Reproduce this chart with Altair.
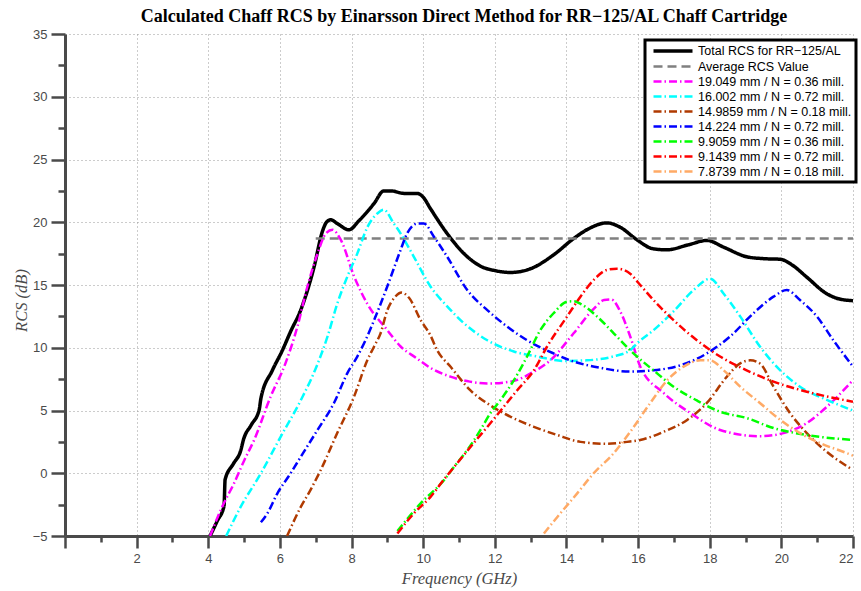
import altair as alt
import pandas as pd

TITLE = "Calculated Chaff RCS by Einarsson Direct Method for RR−125/AL Chaff Cartridge"

series_names = [
    "Total RCS for RR−125/AL",
    "Average RCS Value",
    "19.049 mm / N = 0.36 mill.",
    "16.002 mm / N = 0.72 mill.",
    "14.9859 mm / N = 0.18 mill.",
    "14.224 mm / N = 0.72 mill.",
    "9.9059 mm / N = 0.36 mill.",
    "9.1439 mm / N = 0.72 mill.",
    "7.8739 mm / N = 0.18 mill.",
]
series_colors = ["#000000", "#808080", "#ff00ff", "#00ffff", "#b03a00",
                 "#0000ff", "#00ff00", "#ff0000", "#ffaa66"]
series_dashes = [[1, 0], [9, 5], [8, 3, 1.5, 3], [8, 3, 1.5, 3], [8, 3, 1.5, 3],
                 [8, 3, 1.5, 3], [8, 3, 1.5, 3], [8, 3, 1.5, 3], [8, 3, 1.5, 3]]
series_widths = [3.5, 2.5, 2.5, 2.5, 2.5, 2.5, 2.5, 2.5, 2.5]

total_x = [4.05, 4.25, 4.44, 4.47, 4.7, 4.91, 4.98, 5.2, 5.42, 5.47, 5.79, 6.07, 6.3, 6.58,
           6.95, 7.19, 7.3, 7.42, 7.6, 7.93, 8.2, 8.63, 8.9, 9.1, 9.46, 9.83, 10.0, 10.2,
           10.67, 11.14, 11.6, 12.0, 12.44, 13.0, 13.64, 14.2, 14.6, 15.13, 15.5, 15.97,
           16.4, 16.8, 17.4, 17.92, 18.4, 19.03, 19.5, 19.97, 20.3, 20.7, 21.27, 21.6, 22.0]
total_y = [-5.0, -3.8, -2.6, -0.5, 0.75, 1.85, 2.65, 3.85, 5.04, 5.97, 8.2, 9.8, 11.3, 13.0,
           16.4, 19.3, 20.0, 20.2, 19.9, 19.4, 20.1, 21.5, 22.5, 22.5, 22.3, 22.3, 22.0, 21.1,
           19.1, 17.5, 16.5, 16.15, 16.0, 16.3, 17.4, 18.7, 19.45, 19.95, 19.6, 18.6,
           17.9, 17.8, 18.2, 18.55, 18.0, 17.25, 17.1, 17.05, 16.6, 15.65, 14.3, 13.9, 13.75]

avg_x = [7.0, 22.0]
avg_y = [18.7, 18.7]

mag_x = [4.05, 4.4, 4.72, 5.0, 5.28, 5.74, 6.16, 6.49, 6.77, 7.05, 7.28, 7.47, 7.7, 8.07,
         8.44, 9.0, 9.37, 9.8, 10.2, 10.76, 11.3, 11.79, 12.44, 13.09, 13.55, 14.2, 14.76,
         15.05, 15.25, 15.5, 15.78, 16.06, 16.71, 17.46, 18.29, 19.4, 20.06, 20.71, 21.27, 21.96]
mag_y = [-5.0, -2.6, -0.8, 1.0, 2.65, 6.1, 8.8, 11.7, 14.9, 17.5, 19.1, 19.4, 18.6, 15.7,
         13.5, 11.4, 10.1, 9.2, 8.4, 7.7, 7.3, 7.15, 7.3, 8.1, 9.0, 11.15, 13.1,
         13.8, 13.85, 12.9, 10.9, 8.5, 6.4, 4.8, 3.45, 2.95, 3.2, 4.0, 5.3, 7.3]

cyan_x = [4.5, 4.9, 5.47, 6.02, 6.58, 7.0, 7.33, 7.6, 7.88, 8.16, 8.44, 8.72, 8.9, 9.18,
          9.28, 9.74, 10.2, 10.67, 11.14, 11.79, 12.53, 13.18, 13.92, 14.57, 15.3, 15.78,
          15.97, 16.43, 16.99, 17.55, 18.01, 18.39, 18.85, 19.4, 19.97, 20.52, 21.27, 22.0]
cyan_y = [-5.0, -2.7, 0.0, 2.9, 5.8, 8.35, 10.9, 13.5, 15.65, 17.5, 19.6, 20.7, 21.0, 19.9,
          19.5, 17.25, 14.9, 13.3, 11.95, 10.6, 9.7, 9.3, 8.95, 9.0, 9.3, 9.8,
          10.35, 11.4, 12.9, 14.6, 15.5, 14.3, 12.5, 10.1, 8.2, 6.9, 5.85, 5.0]

brown_x = [6.2, 6.58, 6.86, 7.14, 7.6, 8.07, 8.44, 8.63, 8.81, 9.0, 9.2, 9.4, 9.6, 9.93,
           10.2, 10.39, 10.76, 11.32, 11.88, 12.44, 13.09, 13.74, 14.39, 15.13, 15.69,
           16.06, 16.71, 17.37, 17.92, 18.48, 18.85, 19.13, 19.4, 19.78, 20.24, 20.71,
           21.27, 21.92]
brown_y = [-5.0, -2.7, -1.3, 0.26, 3.2, 6.1, 9.0, 10.1, 11.15, 13.0, 14.0, 14.4, 14.0, 12.2,
           11.0, 9.8, 8.5, 6.6, 5.4, 4.5, 3.7, 3.05, 2.5, 2.35, 2.5,
           2.65, 3.3, 4.25, 5.6, 7.7, 8.75, 9.0, 8.75, 6.9, 4.8, 3.2,
           1.7, 0.4]

blue_x = [5.47, 5.65, 5.93, 6.3, 6.58, 7.05, 7.51, 7.88, 8.16, 8.39, 8.63, 9.0, 9.37, 9.55,
          9.85, 10.02, 10.3, 10.67, 11.23, 11.79, 12.34, 12.9, 13.64, 14.2, 14.95, 15.78,
          16.43, 17.18, 17.92, 18.57, 19.22, 19.78, 20.15, 20.52, 20.99, 21.45, 22.0]
blue_y = [-3.9, -3.2, -1.6, 0.0, 1.3, 3.45, 5.6, 7.96, 9.3, 10.6, 12.2, 14.9, 17.8, 19.1,
          19.9, 19.9, 18.85, 17.25, 14.6, 13.0, 11.7, 10.6, 9.55, 8.9, 8.4, 8.1,
          8.2, 8.6, 9.55, 10.9, 12.75, 14.07, 14.6, 13.8, 12.5, 10.6, 8.5]

green_x = [9.28, 9.93, 10.58, 10.86, 11.23, 11.6, 11.88, 12.16, 12.53, 12.9, 13.27, 13.64,
           14.02, 14.2, 14.39, 14.85, 15.32, 15.78, 15.97, 16.43, 16.99, 17.64, 18.29,
           19.03, 19.78, 20.71, 22.0]
green_y = [-4.6, -2.4, -0.55, 0.5, 1.85, 3.45, 4.8, 5.84, 7.4, 9.3, 11.4, 12.75,
           13.67, 13.7, 13.5, 12.5, 11.15, 9.8, 9.3, 8.2, 6.9, 5.8, 4.9,
           4.4, 3.6, 3.05, 2.65]

red_x = [9.28, 9.74, 10.2, 10.58, 10.95, 11.41, 11.88, 12.25, 12.62, 13.09, 13.46, 14.02,
         14.39, 14.76, 15.13, 15.41, 15.78, 16.0, 16.43, 16.99, 17.64, 18.29, 19.03,
         19.78, 20.71, 22.0]
red_y = [-4.8, -3.2, -1.9, -0.5, 0.8, 2.4, 4.0, 5.3, 6.6, 8.2, 10.1, 12.5,
         14.07, 15.4, 16.2, 16.3, 15.9, 15.2, 13.8, 12.2, 10.6, 9.3, 8.2,
         7.3, 6.5, 5.7]

orange_x = [13.37, 13.74, 14.3, 14.76, 15.32, 15.78, 16.34, 16.81, 17.27, 17.74, 18.01,
            18.39, 18.85, 19.4, 19.97, 20.52, 21.08, 21.83, 22.0]
orange_y = [-4.8, -3.5, -1.6, 0.0, 1.6, 3.3, 5.6, 7.4, 8.5, 9.0, 9.0,
            8.2, 6.9, 5.6, 4.25, 3.2, 2.4, 1.6, 1.4]

x_ticks = list(range(0, 23))
y_ticks = [-5 + 2.5 * i for i in range(17)]

all_x = [total_x, avg_x, mag_x, cyan_x, brown_x, blue_x, green_x, red_x, orange_x]
all_y = [total_y, avg_y, mag_y, cyan_y, brown_y, blue_y, green_y, red_y, orange_y]

rows = []
for name, xs, ys in zip(series_names, all_x, all_y):
    for xv, yv in zip(xs, ys):
        rows.append({"series": name, "freq": xv, "rcs": yv})
df = pd.DataFrame(rows)

AX = "#4a4a4a"
leg = alt.Legend(title=None, orient="none", legendX=580, legendY=6,
                 symbolType="M-3.9,0H3.9", symbolSize=100, symbolOffset=17,
                 labelOffset=18, labelFont="Liberation Sans", labelFontSize=12.5,
                 labelColor="black", fillColor="white", strokeColor="black",
                 padding=4, rowPadding=2, labelLimit=300)

chart = alt.Chart(df).mark_line(interpolate="monotone", clip=True).encode(
    x=alt.X("freq:Q", scale=alt.Scale(domain=[0, 22], nice=False, zero=False),
            axis=alt.Axis(values=x_ticks, title="Frequency (GHz)",
                          labelExpr="datum.value % 2 == 0 && datum.value > 0 ? datum.label : ''",
                          tickSize={"condition": {"test": "datum.value % 2 == 0", "value": 12}, "value": 6},
                          gridOpacity={"condition": {"test": "datum.value % 2 == 0 && datum.value > 0", "value": 1}, "value": 0},
                          labelPadding=4, titleX=394, titleY=42, titleBaseline="middle")),
    y=alt.Y("rcs:Q", scale=alt.Scale(domain=[-5, 35], nice=False, zero=False),
            axis=alt.Axis(values=y_ticks, title="RCS (dB)",
                          labelExpr="datum.value % 5 == 0 ? datum.label : ''",
                          tickSize={"condition": {"test": "datum.value % 5 == 0", "value": 14}, "value": 7},
                          gridOpacity={"condition": {"test": "datum.value % 5 == 0 && datum.value > -5", "value": 1}, "value": 0},
                          labelPadding=4, titleX=-44, titleY=266, titleAngle=270,
                          titleAlign="center", titleBaseline="middle")),
    color=alt.Color("series:N", scale=alt.Scale(domain=series_names, range=series_colors), legend=leg),
    strokeDash=alt.StrokeDash("series:N", scale=alt.Scale(domain=series_names, range=series_dashes), legend=leg),
    strokeWidth=alt.StrokeWidth("series:N", scale=alt.Scale(type="ordinal", domain=series_names, range=series_widths), legend=leg),
).properties(
    width=788, height=502,
    autosize=alt.AutoSizeParams(type="none"),
    padding={"left": 65, "top": 34, "right": 8, "bottom": 55},
    title=alt.TitleParams(TITLE, font="Liberation Serif", fontSize=18, fontWeight="bold",
                          color="black", anchor="middle", offset=2, dx=5),
).configure_view(stroke="transparent").configure_axis(
    domainColor=AX, domainWidth=3, tickColor=AX, tickWidth=2.5,
    labelFont="Liberation Sans", labelFontSize=13, labelColor=AX,
    titleFont="Liberation Serif", titleFontStyle="italic", titleFontWeight="normal",
    titleFontSize=16.5, titleColor=AX,
    gridColor="#999999", gridDash=[1, 3], gridWidth=1,
).configure_legend(strokeWidth=3)

chart.save("out.html", embed_options={"renderer": "svg", "actions": False})
